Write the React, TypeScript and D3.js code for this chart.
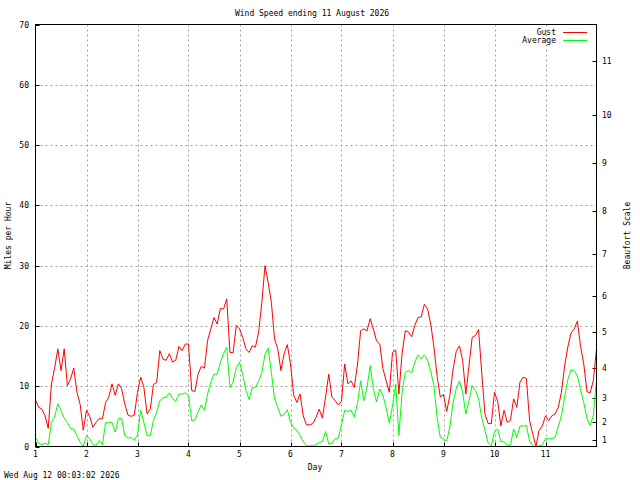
import React from 'react';
import * as d3 from 'd3';

// readings every 1.5 hours, starting day 1 00:00
const stepHours = 1.5;

const gust = [
  7.7, 6.5, 6.2, 5.1, 3.0, 10.4, 13.0, 16.2, 12.6, 16.2, 10.1, 11.2, 13.0, 9.0, 7.0, 2.7,
  6.0, 5.0, 3.2, 4.0, 4.6, 4.6, 7.3, 8.2, 10.4, 8.5, 10.4, 9.6, 7.1, 5.2, 5.0, 5.2,
  9.0, 11.5, 9.8, 5.4, 6.2, 10.3, 10.6, 15.9, 14.5, 14.3, 15.4, 14.0, 14.3, 16.6, 15.9, 17.0,
  17.0, 9.3, 9.1, 12.0, 13.3, 13.0, 17.6, 19.5, 21.4, 20.3, 22.9, 22.8, 24.5, 15.6, 15.6, 20.1,
  19.5, 18.1, 16.2, 15.6, 16.7, 16.5, 19.0, 23.8, 30.0, 27.2, 23.9, 17.8, 16.2, 12.6, 15.4, 16.9,
  13.7, 8.5, 7.3, 8.7, 5.1, 3.6, 3.6, 3.8, 4.8, 6.2, 4.7, 8.2, 12.0, 8.2, 7.6, 6.9,
  7.5, 13.7, 10.4, 10.9, 9.8, 13.5, 19.2, 19.5, 19.2, 21.2, 19.5, 17.5, 17.0, 12.9, 10.9, 9.0,
  15.6, 16.0, 8.7, 15.4, 19.2, 19.0, 18.2, 20.1, 21.4, 21.5, 23.6, 22.8, 20.3, 16.5, 11.6, 8.2,
  8.6, 5.8, 8.5, 12.8, 15.8, 16.7, 14.3, 8.7, 13.4, 18.1, 18.4, 19.4, 12.2, 5.4, 3.8, 3.8,
  9.0, 7.5, 3.4, 6.0, 4.0, 4.3, 7.9, 6.5, 10.7, 11.5, 11.3, 4.3, 2.1, 0.0, 2.7, 3.4,
  5.1, 4.3, 5.1, 5.4, 6.5, 9.0, 13.4, 16.5, 18.8, 19.5, 20.8, 16.6, 13.7, 9.1, 8.9, 10.9,
  16.2,
];

const average = [
  1.5, 0.55, 0.3, 0.55, 0.3, 4.0, 4.9, 7.1, 6.0, 4.7, 4.0, 3.0, 2.9, 1.8, 0.7, 0.05,
  1.8, 1.3, 0.3, 0.2, 1.0, 0.3, 4.0, 4.0, 4.0, 2.4, 4.6, 4.7, 1.8, 1.4, 1.5, 1.0,
  2.0, 6.0, 4.0, 1.8, 1.8, 4.3, 5.7, 7.6, 8.1, 8.2, 8.9, 8.0, 7.5, 8.7, 8.7, 8.9,
  8.5, 4.3, 4.4, 5.7, 6.9, 6.0, 8.7, 10.7, 12.0, 12.0, 13.9, 15.4, 16.5, 9.8, 10.7, 13.1,
  14.0, 12.0, 9.3, 7.8, 9.7, 9.8, 10.9, 12.2, 15.3, 16.3, 12.3, 7.9, 6.5, 5.0, 5.3, 6.1,
  4.0, 3.1, 2.7, 1.8, 0.8, 0.1, 0.1, 0.1, 0.3, 0.7, 0.8, 2.5, 0.4, 0.55, 1.3, 1.4,
  3.6, 6.0, 5.8, 6.0, 4.9, 7.1, 10.9, 7.6, 9.8, 13.4, 9.6, 7.4, 9.5, 8.5, 6.4, 3.9,
  6.7, 10.4, 1.8, 9.0, 12.3, 12.6, 12.2, 14.0, 15.2, 14.5, 15.2, 14.3, 12.4, 10.1, 4.8, 1.5,
  1.3, 0.9, 3.2, 7.3, 9.6, 10.9, 9.0, 5.4, 7.6, 10.1, 9.3, 7.9, 4.7, 2.7, 0.6, 0.1,
  2.5, 2.9, 0.8, 0.8, 0.2, 0.2, 2.9, 1.5, 3.4, 3.4, 3.5, 0.9, 0.1, 0.0, 0.1, 0.3,
  1.3, 1.3, 1.3, 1.5, 3.3, 5.1, 8.2, 11.1, 12.7, 12.6, 11.7, 9.4, 7.3, 4.7, 3.5, 5.1,
  10.9,
];

const mphTicks = [0, 10, 20, 30, 40, 50, 60, 70];
const dayTicks = [1, 2, 3, 4, 5, 6, 7, 8, 9, 10, 11];
// lower bound (mph) of each Beaufort force
const beaufortMph = [1, 4, 8, 13, 19, 25, 32, 39, 47, 55, 64];
const beaufortLabels = ['1', '2', '3', '4', '5', '6', '7', '8', '9', '10', '11'];

const title = 'Wind Speed ending 11 August 2026';
const stamp = 'Wed Aug 12 00:03:02 2026';

const W = 640;
const H = 480;
const left = 35.5;
const right = 596.5;
const top = 24.5;
const bottom = 446.5;
const font = '"DejaVu Sans Mono", "Liberation Mono", monospace';
const fs = 8;

const App: React.FC = () => {
  const x = d3.scaleLinear().domain([1, 12]).range([left, right]);
  const y = d3.scaleLinear().domain([0, 70]).range([bottom, top]);

  const dayOf = (i: number) => 1 + (i * stepHours) / 24;
  const line = d3
    .line<number>()
    .x((_, i) => x(dayOf(i)))
    .y(d => y(d));

  const grid = '#a0a0a0';

  return (
    <div style={{ position: 'fixed', left: 0, top: 0, width: W, height: H, background: '#fff' }}>
      <svg width={W} height={H} style={{ display: 'block', fontFamily: font, fontSize: fs }}>
        <rect x={0} y={0} width={W} height={H} fill="#fff" />

        {/* grid */}
        {mphTicks.slice(1, -1).map(t => (
          <line key={'gy' + t} x1={left} x2={right} y1={Math.round(y(t)) + 0.5} y2={Math.round(y(t)) + 0.5}
            stroke={grid} strokeDasharray="2,3" />
        ))}
        {dayTicks.slice(1).map(d => (
          <line key={'gx' + d} x1={Math.round(x(d)) + 0.5} x2={Math.round(x(d)) + 0.5} y1={top} y2={bottom}
            stroke={grid} strokeDasharray="2,3" />
        ))}

        {/* ticks */}
        {mphTicks.map(t => (
          <line key={'ty' + t} x1={left} x2={left + 4} y1={Math.round(y(t)) + 0.5} y2={Math.round(y(t)) + 0.5} stroke="#000" />
        ))}
        {dayTicks.map(d => (
          <line key={'tx' + d} x1={Math.round(x(d)) + 0.5} x2={Math.round(x(d)) + 0.5} y1={bottom} y2={bottom - 4} stroke="#000" />
        ))}
        {beaufortMph.map(m => (
          <line key={'tb' + m} x1={right - 4} x2={right} y1={Math.round(y(m)) + 0.5} y2={Math.round(y(m)) + 0.5} stroke="#000" />
        ))}

        {/* series */}
        <path d={line(gust) ?? ''} fill="none" stroke="#ff0000" strokeWidth={1} />
        <path d={line(average) ?? ''} fill="none" stroke="#00ff00" strokeWidth={1} />

        {/* border */}
        <rect x={left} y={top} width={right - left} height={bottom - top} fill="none" stroke="#000" />

        {/* tick labels */}
        {mphTicks.map(t => (
          <text key={'ly' + t} x={29} y={y(t) + 3} textAnchor="end">{t}</text>
        ))}
        {dayTicks.map(d => (
          <text key={'lx' + d} x={x(d)} y={457} textAnchor="middle">{d}</text>
        ))}
        {beaufortMph.map((m, i) => (
          <text key={'lb' + m} x={602} y={y(m) + 3}>{beaufortLabels[i]}</text>
        ))}

        {/* titles */}
        <text x={312} y={16} textAnchor="middle">{title}</text>
        <text x={315} y={470} textAnchor="middle">Day</text>
        <text x={4} y={478}>{stamp}</text>
        <text transform={`translate(11,${(top + bottom) / 2}) rotate(-90)`} textAnchor="middle">Miles per Hour</text>
        <text transform={`translate(630,${(top + bottom) / 2}) rotate(-90)`} textAnchor="middle">Beaufort Scale</text>

        {/* legend */}
        <text x={556} y={35} textAnchor="end">Gust</text>
        <line x1={563} x2={587} y1={32.5} y2={32.5} stroke="#ff0000" />
        <text x={556} y={43} textAnchor="end">Average</text>
        <line x1={563} x2={587} y1={40.5} y2={40.5} stroke="#00ff00" />
      </svg>
    </div>
  );
};

export default App;
